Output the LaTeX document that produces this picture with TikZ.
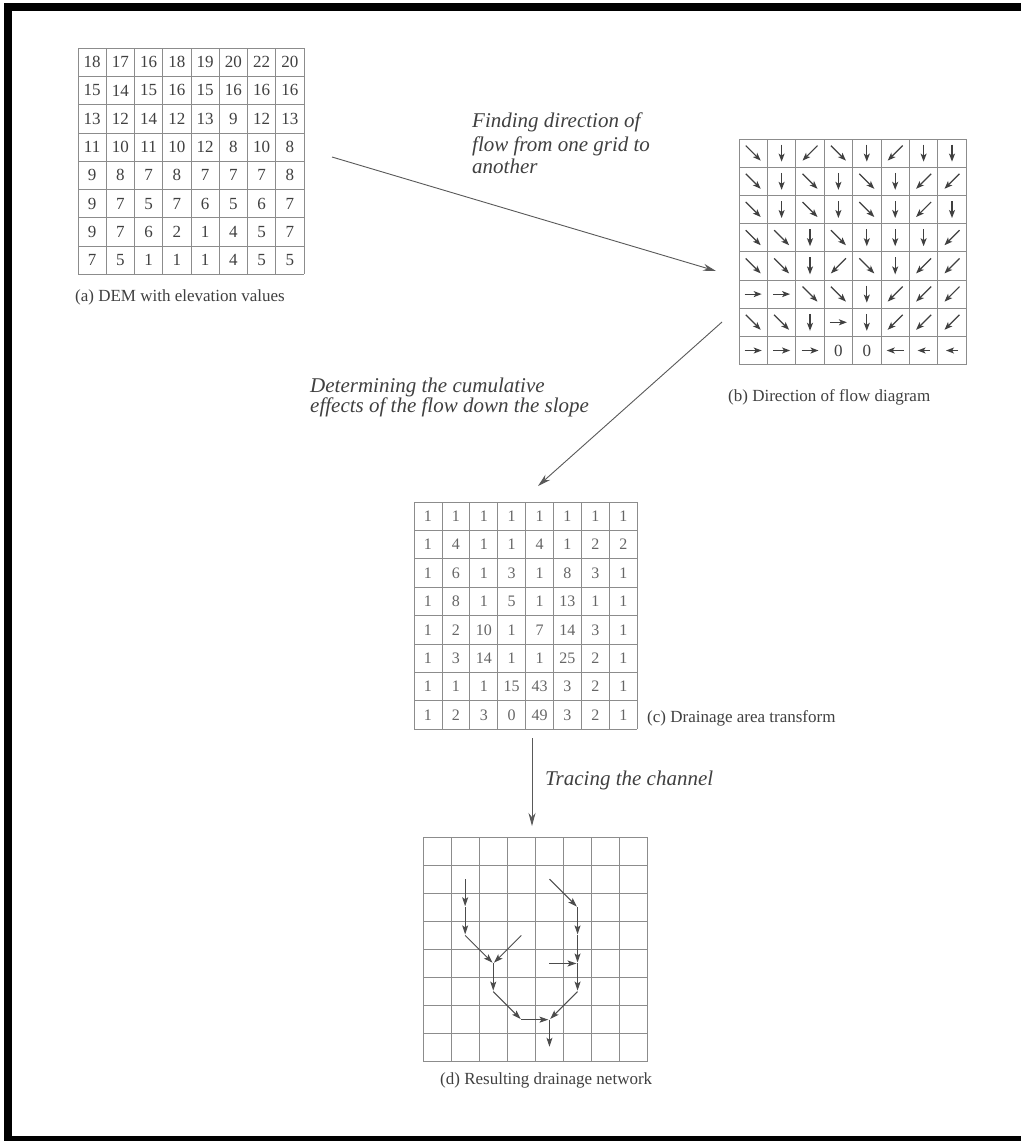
\documentclass[tikz,border=0pt]{standalone}
\usepackage{fontspec}
\setmainfont{Liberation Serif}
\usetikzlibrary{arrows.meta,calc}
\begin{document}
\begin{tikzpicture}[x=1pt,y=-1pt,
  gridline/.style={draw=black!45, line width=0.7pt},
  num/.style={font=\fontsize{17}{17}\selectfont, text=black!75, inner sep=0pt},
  numc/.style={font=\fontsize{16}{16}\selectfont, text=black!60, inner sep=0pt},
  caption/.style={font=\fontsize{17}{20}\selectfont, text=black!75, inner sep=0pt, anchor=base west},
  note/.style={font=\itshape\fontsize{21}{23}\selectfont, text=black!75, inner sep=0pt, anchor=base west},
  mainarrow/.style={draw=black!65, line width=0.9pt, -{Stealth[length=13pt,width=7pt]}},
  flowarr/.style={draw=black!75, line width=1.2pt, -{Stealth[length=8pt,width=6pt,inset=2pt]}},
  chan/.style={draw=black!70, line width=1pt, shorten >=1pt, -{Stealth[length=9pt,width=6pt,inset=2pt]}},
]
\useasboundingbox (0,0) rectangle (1021,1141);
\fill[white] (0,0) rectangle (1021,1141);
% frame
\fill[black] (4,3) rectangle (1021,11);
\fill[black] (4,3) rectangle (12,1141);
\fill[black] (4,1136) rectangle (1021,1141);

% ---------- grid (a) ----------
\foreach \i in {0,...,8} {
  \draw[gridline] ({78+28.25*\i},48) -- ({78+28.25*\i},274.4);
  \draw[gridline] (78,{48+28.3*\i}) -- (304,{48+28.3*\i});
}
\foreach \row [count=\r] in {{18,17,16,18,19,20,22,20},{15,14,15,16,15,16,16,16},{13,12,14,12,13,9,12,13},{11,10,11,10,12,8,10,8},{9,8,7,8,7,7,7,8},{9,7,5,7,6,5,6,7},{9,7,6,2,1,4,5,7},{7,5,1,1,1,4,5,5}} {
  \foreach \v [count=\c] in \row {
    \node[num] (a-\r-\c) at ({78+28.25*(\c-0.5)},{48+28.3*(\r-0.5)}) {\v};
  }
}
\node[caption] (capa) at (75,301) {(a) DEM with elevation values};

% ---------- grid (b) ----------
\foreach \i in {0,...,8} {
  \draw[gridline] ({739+28.4*\i},139) -- ({739+28.4*\i},364.6);
  \draw[gridline] (739,{139+28.2*\i}) -- (966.2,{139+28.2*\i});
}
\foreach \row [count=\r] in {
 {1/1,0/1,-1/1,1/1,0/1,-1/1,0/1,0/1},
 {1/1,0/1,1/1,0/1,1/1,0/1,-1/1,-1/1},
 {1/1,0/1,1/1,0/1,1/1,0/1,-1/1,0/1},
 {1/1,1/1,0/1,1/1,0/1,0/1,0/1,-1/1},
 {1/1,1/1,0/1,-1/1,1/1,0/1,-1/1,-1/1},
 {1/0,1/0,1/1,1/1,0/1,-1/1,-1/1,-1/1},
 {1/1,1/1,0/1,1/0,0/1,-1/1,-1/1,-1/1},
 {1/0,1/0,1/0,0/0,0/0,-1/0,-1/0,-1/0}} {
  \foreach \dx/\dy [count=\c] in \row {
    \pgfmathsetmacro\cx{739+28.4*(\c-0.5)}
    \pgfmathsetmacro\cy{139+28.2*(\r-0.5)}
    \coordinate (b-\r-\c) at (\cx,\cy);
    \pgfmathsetmacro\L{(abs(\dx)+abs(\dy)>1)?7.5:((\r==8 && \c>6)?6:8.5)}
    \pgfmathtruncatemacro\zero{(abs(\dx)+abs(\dy)==0)?1:0}
    \ifnum\zero=1
      \node[num] (bz-\r-\c) at (b-\r-\c) {0};
    \else
      \draw[flowarr] ({\cx-\L*(\dx)},{\cy-\L*(\dy)}) -- ({\cx+\L*(\dx)},{\cy+\L*(\dy)});
    \fi
  }
}
\node[caption] (capb) at (728,401) {(b) Direction of flow diagram};

% ---------- grid (c) ----------
\foreach \i in {0,...,8} {
  \draw[gridline] ({414+27.9*\i},502) -- ({414+27.9*\i},729.2);
  \draw[gridline] (414,{502+28.4*\i}) -- (637.2,{502+28.4*\i});
}
\foreach \row [count=\r] in {{1,1,1,1,1,1,1,1},{1,4,1,1,4,1,2,2},{1,6,1,3,1,8,3,1},{1,8,1,5,1,13,1,1},{1,2,10,1,7,14,3,1},{1,3,14,1,1,25,2,1},{1,1,1,15,43,3,2,1},{1,2,3,0,49,3,2,1}} {
  \foreach \v [count=\c] in \row {
    \node[numc] (c-\r-\c) at ({414+27.9*(\c-0.5)},{502+28.4*(\r-0.5)}) {\v};
  }
}
\node[caption] (capc) at (647,722) {(c) Drainage area transform};

% ---------- grid (d) ----------
\foreach \i in {0,...,8} {
  \draw[gridline] ({423+28.1*\i},837) -- ({423+28.1*\i},1061.8);
  \draw[gridline] (423,{837+28.1*\i}) -- (647.8,{837+28.1*\i});
}
\foreach \c in {0,...,7} {
  \foreach \r in {0,...,7} {
    \coordinate (d-\c-\r) at ({423+28.1*(\c+0.5)},{837+28.1*(\r+0.5)});
  }
}
\foreach \p/\q in {1-1/1-2, 1-2/1-3, 1-3/2-4, 3-3/2-4, 2-4/2-5, 2-5/3-6, 3-6/4-6,
                   4-1/5-2, 5-2/5-3, 5-3/5-4, 4-4/5-4, 5-4/5-5, 5-5/4-6, 4-6/4-7} {
  \draw[chan] (d-\p) -- (d-\q);
}
\node[caption] (capd) at (440,1084) {(d) Resulting drainage network};

% ---------- process arrows ----------
\coordinate (s1) at (332,157);
\coordinate (e1) at (716,271);
\coordinate (s2) at (722,322);
\coordinate (e2) at (538,486);
\coordinate (s3) at (532,738);
\coordinate (e3) at (532,826);
\draw[mainarrow] (s1) -- (e1);
\draw[mainarrow] (s2) -- (e2);
\draw[mainarrow] (s3) -- (e3);

\node[note] (n1a) at (472,127) {Finding direction of};
\node[note] (n1b) at (472,151) {flow from one grid to};
\node[note] (n1c) at (472,173) {another};
\node[note] (n2a) at (310,392) {Determining the cumulative};
\node[note] (n2b) at (310,412) {effects of the flow down the slope};
\node[note] (n3) at (545,785) {Tracing the channel};
\end{tikzpicture}
\end{document}
